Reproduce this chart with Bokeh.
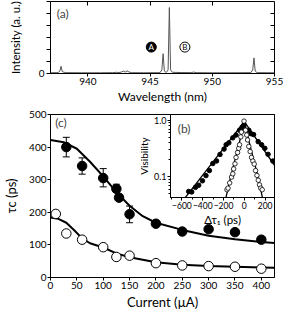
from bokeh.plotting import figure
from bokeh.models import (Range1d, FixedTicker, LinearAxis, ColumnDataSource,
                          Whisker, TeeHead, Label, PrintfTickFormatter)
from bokeh.layouts import column
from bokeh.embed import file_html
from bokeh.resources import INLINE
from bokeh.core.properties import value

FONT = "Lato"

# ---------------- (a) spectrum ----------------
wavelength = [937.0, 937.6, 937.75, 937.85, 937.95, 938.2, 939.5, 941.0, 942.0, 942.3,
              942.5, 942.7, 942.85, 943.0, 943.15, 943.3, 943.5, 944.5, 945.8, 945.95,
              946.05, 946.15, 946.3, 946.45, 946.55, 946.65, 946.8, 947.5, 948.3, 948.5,
              948.7, 950.0, 951.5, 953.1, 953.25, 953.35, 953.45, 953.6, 955.0]
intensity = [0.06, 0.07, 0.2, 0.6, 0.15, 0.07, 0.06, 0.06, 0.07, 0.1,
             0.08, 0.12, 0.2, 0.12, 0.22, 0.13, 0.07, 0.06, 0.07, 0.3,
             1.65, 0.2, 0.08, 0.3, 5.5, 0.3, 0.1, 0.08, 0.07, 0.12,
             0.07, 0.06, 0.06, 0.07, 0.3, 1.3, 0.2, 0.07, 0.06]
wl_ticks = [940, 945, 950, 955]
int_ticks = [0]
int_minor = [1, 2, 3, 4, 5, 6]
marker_x = [945.1, 947.8]
marker_y = [2.2, 2.2]
marker_text = ["A", "B"]

# ---------------- (c) coherence time vs current ----------------
cur_filled = [30, 60, 100, 125, 130, 150, 200, 250, 300, 350, 400]
tau_filled = [400, 342, 305, 272, 245, 194, 165, 141, 148, 139, 116]
err_x = [30, 60, 100, 125, 150]
err_lo = [370, 317, 278, 262, 168]
err_hi = [430, 367, 334, 286, 219]
cur_open = [10, 30, 60, 100, 125, 150, 200, 250, 300, 350, 400]
tau_open = [195, 135, 116, 93, 63, 67, 44, 37, 35, 33, 27]
fit_filled_x = [0, 25, 50, 75, 100, 125, 150, 175, 200, 250, 300, 350, 400, 425]
fit_filled_y = [422, 415, 395, 355, 310, 262, 220, 188, 168, 146, 128, 117, 109, 106]
fit_open_x = [0, 15, 30, 45, 60, 75, 100, 125, 150, 200, 250, 300, 350, 400, 425]
fit_open_y = [184, 180, 168, 145, 120, 105, 92, 74, 62, 47, 39, 35, 33, 31, 30]
cur_ticks = [0, 50, 100, 150, 200, 250, 300, 350, 400]
tau_ticks = [0, 100, 200, 300, 400, 500]

# ---------------- (b) visibility inset ----------------
dt_filled = [-535, -506, -470, -439, -403, -369, -336, -303, -267, -234, -195, -175, -149,
             -111, -80, -46, -21, -3, 43, 64, 89, 133, 166, 197, 228, 274]
vis_filled = [0.055, 0.054, 0.065, 0.071, 0.085, 0.105, 0.129, 0.172, 0.191, 0.249, 0.31,
              0.37, 0.40, 0.49, 0.55, 0.67, 0.76, 0.83, 0.67, 0.58, 0.56, 0.42, 0.37, 0.32,
              0.25, 0.19]
dt_open = [-167, -157, -141, -123, -111, -103, -90, -80, -65, -54, -46, -34, -28, -3,
           12, 23, 31, 43, 56, 69, 82, 95, 108, 121, 134, 146, 158, 172]
vis_open = [0.059, 0.063, 0.078, 0.099, 0.113, 0.138, 0.17, 0.22, 0.27, 0.32, 0.37, 0.51,
            0.62, 0.97, 0.67, 0.55, 0.45, 0.345, 0.28, 0.22, 0.19, 0.168, 0.129, 0.106,
            0.087, 0.072, 0.063, 0.059]
fitb_filled_x = [-572, 0, 290]
fitb_filled_v = [0.042, 0.95, 0.16]
fitb_open_x = [-178, -140, -100, -60, -30, 0, 30, 60, 100, 140, 175]
fitb_open_v = [0.042, 0.085, 0.17, 0.33, 0.55, 0.97, 0.55, 0.33, 0.17, 0.085, 0.042]
dt_ticks = [-600, -400, -200, 0, 200]
dt_minor = [-700, -500, -300, -100, 100]
vis_ticks = [0.1, 1.0]
vis_minor = [0.05, 0.06, 0.07, 0.08, 0.09, 0.2, 0.3, 0.4, 0.5, 0.6, 0.7, 0.8, 0.9]


def style(p, tick=10, lab=12.5):
    p.grid.visible = False
    p.outline_line_color = "black"
    p.outline_line_width = 1
    p.background_fill_color = "white"
    for ax in p.axis:
        ax.axis_line_color = "black"
        ax.major_tick_line_color = "black"
        ax.minor_tick_line_color = "black"
        ax.major_label_text_font = FONT
        ax.axis_label_text_font = FONT
        ax.axis_label_text_font_style = "normal"
        ax.major_label_text_color = "black"
        ax.axis_label_text_color = "black"
        ax.major_label_text_font_size = f"{tick}px"
        ax.axis_label_text_font_size = f"{lab}px"


# ---- panel (a)
pa = figure(width=283, height=106, x_range=Range1d(937, 955), y_range=Range1d(0, 6),
            output_backend="svg", toolbar_location=None,
            min_border_left=43, min_border_right=9, min_border_top=1, min_border_bottom=30)
pa.line(wavelength, intensity, line_color="#555555", line_width=1)
pa.scatter(marker_x, marker_y, size=10, fill_color=["black", "white"], line_color="black",
           line_width=1)
pa.text(marker_x, marker_y, text=marker_text, text_color=["white", "black"],
        text_font=value(FONT), text_font_size="8px", text_align="center",
        text_baseline="middle")
style(pa, tick=10, lab=12)
pa.xaxis.ticker = FixedTicker(ticks=wl_ticks, minor_ticks=[])
pa.xaxis.axis_label = "Wavelength (nm)"
pa.xaxis.major_tick_out = 3
pa.xaxis.major_tick_in = 0
pa.xaxis.major_label_standoff = 1
pa.xaxis.axis_label_standoff = 1
pa.yaxis.ticker = FixedTicker(ticks=int_ticks, minor_ticks=int_minor)
pa.yaxis.axis_label = "Intensity (a. u.)"
pa.yaxis.axis_label_text_font_size = "11.5px"
pa.yaxis.major_tick_out = 4
pa.yaxis.major_tick_in = 0
pa.yaxis.minor_tick_out = 4
pa.yaxis.minor_tick_in = 0
pa.yaxis.major_label_standoff = 2
pa.yaxis.axis_label_standoff = 14
for side, ticks in (("right", [1, 2, 3, 4, 5]), ("above", [940, 945, 950])):
    ax = LinearAxis(ticker=FixedTicker(ticks=[], minor_ticks=ticks),
                    minor_tick_in=4, minor_tick_out=0, major_tick_in=0, major_tick_out=0,
                    major_label_standoff=0, axis_line_color=None,
                    minor_tick_line_color="black")
    pa.add_layout(ax, side)
pa.add_layout(Label(x=937.5, y=5.0, text="(a)", text_font=FONT, text_font_size="12px",
                    text_baseline="middle"))

# ---- panel (c)
pc = figure(width=283, height=206, x_range=Range1d(0, 425), y_range=Range1d(0, 500),
            output_backend="svg", toolbar_location=None,
            min_border_left=44, min_border_right=9, min_border_top=8, min_border_bottom=33)
pc.line(fit_filled_x, fit_filled_y, line_color="black", line_width=2)
pc.line(fit_open_x, fit_open_y, line_color="black", line_width=2)
src_err = ColumnDataSource(dict(x=err_x, lo=err_lo, hi=err_hi))
pc.add_layout(Whisker(base="x", lower="lo", upper="hi", source=src_err,
                      line_color="black", line_width=1,
                      upper_head=TeeHead(size=7, line_color="black", line_width=1),
                      lower_head=TeeHead(size=7, line_color="black", line_width=1)))
pc.scatter(cur_filled, tau_filled, size=9.5, fill_color="black", line_color="black")
pc.scatter(cur_open, tau_open, size=9.5, fill_color="white", line_color="black",
           line_width=1)
style(pc, tick=10, lab=13)
pc.xaxis.ticker = FixedTicker(ticks=cur_ticks, minor_ticks=[])
pc.yaxis.ticker = FixedTicker(ticks=tau_ticks, minor_ticks=[])
pc.xaxis.axis_label = "Current (\u00b5A)"
pc.yaxis.axis_label = "\u03c4c (ps)"
for ax in pc.axis:
    ax.major_tick_out = 3
    ax.major_tick_in = 0
    ax.major_label_standoff = 1
pc.xaxis.axis_label_standoff = 2
pc.yaxis.axis_label_standoff = 7
pc.add_layout(Label(x=9, y=474, text="(c)", text_font=FONT, text_font_size="12px",
                    text_baseline="middle"))

# ---- inset (b)
pb = figure(width=163, height=120, x_range=Range1d(-710, 290),
            y_range=Range1d(0.043, 1.27), y_axis_type="log",
            output_backend="svg", toolbar_location=None,
            margin=(-200, 0, 80, 120),
            min_border_left=31, min_border_right=9, min_border_top=2, min_border_bottom=35)
pb.border_fill_alpha = 0
pb.line(fitb_filled_x, fitb_filled_v, line_color="black", line_width=1.3)
pb.line(fitb_open_x, fitb_open_v, line_color="black", line_width=1.3)
pb.scatter(dt_filled, vis_filled, size=4.5, fill_color="black", line_color="black")
pb.scatter(dt_open, vis_open, size=4.5, fill_color="white", line_color="black",
           line_width=0.8)
style(pb, tick=8.5, lab=11.5)
pb.xaxis.ticker = FixedTicker(ticks=dt_ticks, minor_ticks=dt_minor)
pb.yaxis.ticker = FixedTicker(ticks=vis_ticks, minor_ticks=vis_minor)
pb.yaxis.formatter = PrintfTickFormatter(format="%.1f")
pb.yaxis.major_label_text_font_size = "9px"
pb.xaxis.axis_label = "\u0394\u03c4\u2081 (ps)"
pb.yaxis.axis_label = "Visibility"
pb.yaxis.axis_label_text_font_size = "10px"
for ax in pb.axis:
    ax.major_tick_out = 3
    ax.major_tick_in = 0
    ax.minor_tick_out = 2
    ax.minor_tick_in = 0
    ax.major_label_standoff = 1
pb.xaxis.axis_label_standoff = 1
pb.yaxis.axis_label_standoff = 1
pb.add_layout(Label(x=-640, y=0.72, text="(b)", text_font=FONT, text_font_size="12px",
                    text_baseline="middle"))

layout = column(pa, pc, pb, spacing=0)
open("out.html", "w").write(file_html(layout, INLINE))
